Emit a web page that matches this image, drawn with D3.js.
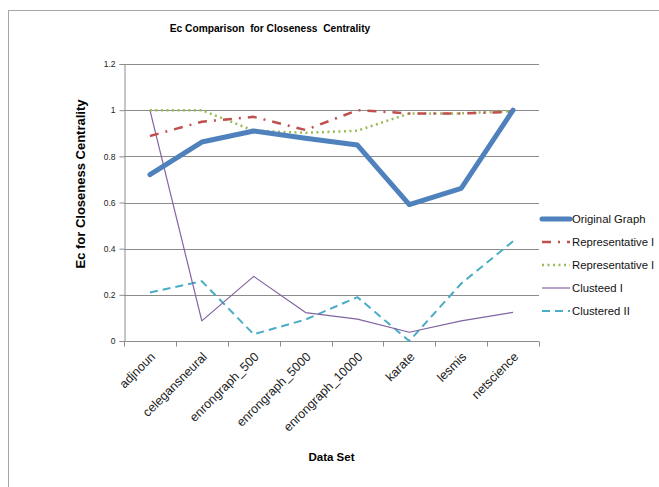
<!DOCTYPE html>
<html>
<head>
<meta charset="utf-8">
<script src="https://cdn.jsdelivr.net/npm/d3@7"></script>
<style>
  body { margin: 0; background: #fff; }
  svg { font-family: "Liberation Sans", Arial, sans-serif; }
</style>
</head>
<body>
<div id="chart"></div>
<script>
const categories = ['adjnoun', 'celegansneural', 'enrongraph_500', 'enrongraph_5000',
  'enrongraph_10000', 'karate', 'lesmis', 'netscience'];
const originalGraph = [0.721, 0.862, 0.91, 0.878, 0.849, 0.591, 0.661, 1.0];
const representative1 = [0.888, 0.95, 0.971, 0.914, 1.0, 0.986, 0.986, 0.993];
const representative2 = [1.0, 1.0, 0.911, 0.902, 0.911, 0.986, 0.986, 0.996];
const clusteed1 = [1.0, 0.087, 0.28, 0.123, 0.095, 0.038, 0.087, 0.124];
const clustered2 = [0.21, 0.259, 0.029, 0.093, 0.19, 0.0, 0.249, 0.432];
const yTicks = [0, 0.2, 0.4, 0.6, 0.8, 1, 1.2];

const series = [
  { name: 'Original Graph', values: originalGraph, color: '#4F81BD', width: 5, dash: null, cap: 'round' },
  { name: 'Representative I', values: representative1, color: '#C0504D', width: 2.5, dash: '9,7,2,7', cap: 'butt' },
  { name: 'Representative I', values: representative2, color: '#9BBB59', width: 2.5, dash: '2,3.5', cap: 'butt' },
  { name: 'Clusteed I', values: clusteed1, color: '#8064A2', width: 1.2, dash: null, cap: 'butt' },
  { name: 'Clustered II', values: clustered2, color: '#4BACC6', width: 2, dash: '8,5', cap: 'butt' }
];

const width = 659, height = 487;
const plot = { left: 124, right: 539, top: 64, bottom: 341 };

const svg = d3.select('#chart').append('svg')
  .attr('width', width).attr('height', height);

// outer frame
svg.append('rect')
  .attr('x', 8.5).attr('y', 10.5).attr('width', 660).attr('height', 490)
  .attr('fill', '#fff').attr('stroke', '#a6a6a6');

const x = d3.scaleBand().domain(categories).range([plot.left, plot.right]);
const y = d3.scaleLinear().domain([0, 1.2]).range([plot.bottom, plot.top]);

// gridlines
svg.append('g')
  .selectAll('line')
  .data(yTicks.filter(d => d > 0))
  .join('line')
  .attr('x1', plot.left).attr('x2', plot.right)
  .attr('y1', d => Math.round(y(d)) + 0.5).attr('y2', d => Math.round(y(d)) + 0.5)
  .attr('stroke', '#8c8c8c').attr('stroke-width', 1);

// y axis
const yAxis = svg.append('g')
  .attr('transform', `translate(${plot.left + 0.5},0)`)
  .call(d3.axisLeft(y).tickValues(yTicks).tickSize(5).tickFormat(d => d));
yAxis.selectAll('path, line').attr('stroke', '#8c8c8c');
yAxis.selectAll('text').attr('font-size', 8.5).attr('fill', '#222').attr('dx', -1);

// x axis
const xAxis = svg.append('g')
  .attr('transform', `translate(0,${Math.round(plot.bottom) + 0.5})`);
xAxis.append('line')
  .attr('x1', plot.left).attr('x2', plot.right)
  .attr('stroke', '#8c8c8c');
xAxis.selectAll('line.tick')
  .data(d3.range(categories.length + 1))
  .join('line')
  .attr('class', 'tick')
  .attr('x1', i => Math.round(plot.left + i * x.step()) + 0.5)
  .attr('x2', i => Math.round(plot.left + i * x.step()) + 0.5)
  .attr('y1', 0).attr('y2', 5)
  .attr('stroke', '#8c8c8c');
xAxis.selectAll('text')
  .data(categories)
  .join('text')
  .attr('transform', d => `translate(${x(d) + x.bandwidth() / 2 + 6},${16}) rotate(-45)`)
  .attr('text-anchor', 'end')
  .attr('font-size', 12.5)
  .attr('fill', '#222')
  .text(d => d);

// lines
const line = d3.line()
  .x((d, i) => x(categories[i]) + x.bandwidth() / 2)
  .y(d => y(d));

svg.append('g')
  .selectAll('path')
  .data(series.slice().reverse())
  .join('path')
  .attr('d', d => line(d.values))
  .attr('fill', 'none')
  .attr('stroke', d => d.color)
  .attr('stroke-width', d => d.width)
  .attr('stroke-dasharray', d => d.dash)
  .attr('stroke-linecap', d => d.cap)
  .attr('stroke-linejoin', 'round');

// title
svg.append('text')
  .attr('x', 270).attr('y', 32)
  .attr('text-anchor', 'middle')
  .attr('font-size', 10.2).attr('font-weight', 'bold')
  .style('white-space', 'pre')
  .text('Ec Comparison  for Closeness  Centrality');

// axis titles
svg.append('text')
  .attr('transform', 'translate(85,184) rotate(-90)')
  .attr('text-anchor', 'middle')
  .attr('font-size', 13).attr('font-weight', 'bold')
  .text('Ec for Closeness Centrality');

svg.append('text')
  .attr('x', (plot.left + plot.right) / 2).attr('y', 461)
  .attr('text-anchor', 'middle')
  .attr('font-size', 11.5).attr('font-weight', 'bold')
  .text('Data Set');

// legend
const legend = svg.append('g')
  .selectAll('g')
  .data(series)
  .join('g')
  .attr('transform', (d, i) => `translate(542,${219 + i * 23})`);
legend.append('line')
  .attr('x1', 0).attr('x2', 28)
  .attr('stroke', d => d.color)
  .attr('stroke-width', d => d.width)
  .attr('stroke-dasharray', d => d.dash)
  .attr('stroke-linecap', d => d.cap);
legend.append('text')
  .attr('x', 30).attr('dy', '0.35em')
  .attr('font-size', 11.3).attr('fill', '#111')
  .text(d => d.name);
</script>
</body>
</html>
